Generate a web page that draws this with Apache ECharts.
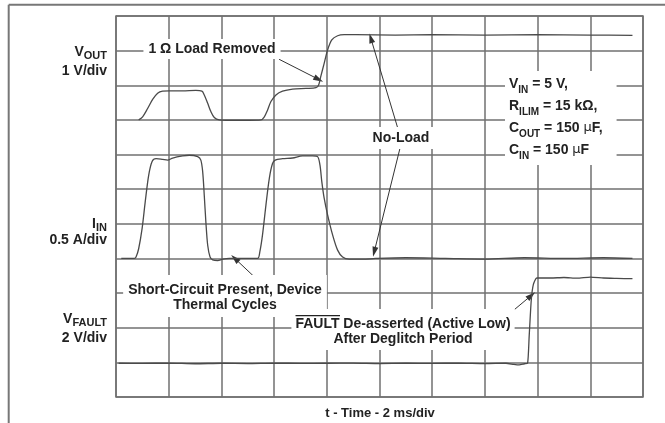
<!DOCTYPE html>
<html>
<head>
<meta charset="utf-8">
<script src="https://cdn.jsdelivr.net/npm/echarts@6/dist/echarts.min.js"></script>
<style>html,body{margin:0;padding:0;background:#fff;}#c{width:665px;height:423px;}</style>
</head>
<body>
<div id="c"></div>
<script>
// ---- data (time in ms, 2 ms/div) ----
const timeVout = [0.86,1.01,1.20,1.39,1.58,1.77,2.02,2.53,3.03,3.26,3.35,3.48,3.60,3.73,3.92,4.17,5.06,5.50,5.63,5.75,5.88,6.07,6.32,6.70,7.21,7.59,7.69,7.77,7.90,8.03,8.19,8.41,8.66,9.10,10.6,12,14,16,18,19.6];
const vout = [0,0.09,0.33,0.59,0.77,0.83,0.84,0.84,0.85,0.83,0.72,0.48,0.24,0.07,0.0,-0.01,-0.01,0,0.09,0.28,0.53,0.72,0.83,0.89,0.91,0.93,1.01,1.25,1.63,2.02,2.31,2.43,2.46,2.46,2.45,2.46,2.45,2.46,2.45,2.44];

const timeIin = [0.2,0.70,0.76,0.86,0.99,1.11,1.24,1.37,1.52,1.77,1.96,2.15,2.53,2.78,3.10,3.22,3.29,3.35,3.41,3.48,3.57,3.67,3.86,4.05,4.30,4.55,5.37,5.46,5.56,5.69,5.82,5.94,6.04,6.32,6.70,7.08,7.46,7.65,7.74,7.81,7.90,8.03,8.22,8.41,8.60,8.85,9.36,9.86,11,12.5,14,15.5,17,18.5,19.6];
const iin = [0,0,0.02,0.14,0.43,0.82,1.20,1.40,1.44,1.43,1.42,1.45,1.48,1.49,1.47,1.42,1.25,0.91,0.53,0.19,0.02,-0.02,-0.03,-0.01,0,0,0,0.10,0.34,0.77,1.16,1.37,1.42,1.44,1.45,1.48,1.48,1.47,1.35,1.11,0.87,0.63,0.34,0.12,0.02,-0.01,-0.01,0,0.01,0,-0.01,0.01,0,0.01,0];

const timeVfault = [0.1,1,2,3,4,5,6,7,8,9,10,11,12,13,14,14.8,15.1,15.3,15.5,15.62,15.68,15.76,15.84,15.97,16.5,17,17.5,18,18.5,19,19.6];
const vfault = [-0.05,-0.06,-0.04,-0.08,-0.05,-0.07,-0.04,-0.06,-0.05,-0.04,-0.07,-0.05,-0.06,-0.04,-0.07,-0.05,-0.12,-0.15,-0.08,-0.05,1.5,3.6,4.5,4.87,4.87,4.90,4.86,4.92,4.87,4.85,4.83];

// annotation arrows in [time ms, division] : start -> tip
const arrowStart = [[6.19,9.75],[10.69,7.77],[10.78,7.19],[5.54,3.26],[15.13,2.53]];
const arrowTip   = [[7.69,9.17],[9.67,10.36],[9.80,4.19],[4.51,4.00],[15.76,2.93]];

const xTicks = {min:0, max:20, interval:2};

const pairs = (t, v) => t.map((x, i) => [x, v[i]]);
const FF = "'Liberation Sans', Arial, Helvetica, sans-serif";
const GRID = '#707070';
const TRACE = '#4a4a4a';
const TXT = '#222';

const richL = {
  m: {fontSize:14, fontWeight:'bold', fontFamily:FF, lineHeight:18},
  s: {fontSize:11, fontWeight:'bold', fontFamily:FF, lineHeight:11, verticalAlign:'bottom'},
  u: {fontSize:13, fontWeight:'normal', fontFamily:"'DejaVu Sans', sans-serif", lineHeight:18}
};
const richP = {
  m: {fontSize:14, fontWeight:'bold', fontFamily:FF, lineHeight:22},
  s: {fontSize:10, fontWeight:'bold', fontFamily:FF, lineHeight:15, verticalAlign:'bottom'},
  u: {fontSize:13, fontWeight:'normal', fontFamily:"'DejaVu Sans', sans-serif", lineHeight:22}
};

function txt(x, y, text, opts) {
  return Object.assign({
    type:'text', x:x, y:y, z:100,
    style: Object.assign({text:text, fill:TXT, font:'bold 14px ' + FF, textAlign:'right', textVerticalAlign:'middle'}, opts || {})
  });
}

const chart = echarts.init(document.getElementById('c'), null, {renderer:'canvas'});
chart.setOption({
  animation:false,
  backgroundColor:'#fff',
  grid:{left:116, right:22, top:16, bottom:26, show:true, borderColor:GRID, borderWidth:1.5, backgroundColor:'transparent'},
  xAxis:{type:'value', min:xTicks.min, max:xTicks.max, interval:xTicks.interval,
    axisLine:{show:false}, axisTick:{show:false}, axisLabel:{show:false},
    splitLine:{show:true, lineStyle:{color:GRID, width:1.5}}},
  yAxis:[
    {type:'value', min:0, max:11, interval:1, axisLine:{show:false}, axisTick:{show:false}, axisLabel:{show:false},
      splitLine:{show:true, lineStyle:{color:GRID, width:1.5}}},
    {type:'value', min:-8, max:3, show:false, splitLine:{show:false}},
    {type:'value', min:-2, max:3.5, show:false, splitLine:{show:false}},
    {type:'value', min:-2, max:20, show:false, splitLine:{show:false}}
  ],
  series:[
    {name:'VOUT', type:'line', yAxisIndex:1, data:pairs(timeVout, vout), showSymbol:false, smooth:0.3,
      lineStyle:{color:TRACE, width:1.3}, z:5},
    {name:'IIN', type:'line', yAxisIndex:2, data:pairs(timeIin, iin), showSymbol:false, smooth:0.3,
      lineStyle:{color:TRACE, width:1.3}, z:5},
    {name:'VFAULT', type:'line', yAxisIndex:3, data:pairs(timeVfault, vfault), showSymbol:false, smooth:0.2,
      lineStyle:{color:TRACE, width:1.3}, z:5},
    {name:'arrows', type:'line', yAxisIndex:0, data:[], z:6,
      markLine:{silent:true, animation:false, symbol:['none','triangle'], symbolSize:[6,10],
        label:{show:false}, lineStyle:{color:'#333', width:1, type:'solid'},
        data: arrowStart.map((s, i) => [{coord:s}, {coord:arrowTip[i]}])}}
  ],
  graphic:[
    {type:'line', z:100, shape:{x1:8.7, y1:4.7, x2:665, y2:4.7}, style:{stroke:'#777', lineWidth:2}},
    {type:'line', z:100, shape:{x1:8.7, y1:4.7, x2:8.7, y2:423}, style:{stroke:'#777', lineWidth:2}},
    txt(107, 52, '{m|V}{s|OUT}', {rich:richL}),
    txt(107, 70.7, '1 V/div'),
    txt(107, 224, '{m|I}{s|IN}', {rich:richL}),
    txt(107, 240.5, '0.5 A/div'),
    txt(107, 319.5, '{m|V}{s|FAULT}', {rich:richL}),
    txt(107, 338, '2 V/div'),
    txt(212, 49, '1 \u03A9 Load Removed', {textAlign:'center', backgroundColor:'#fff', padding:[3,5]}),
    txt(505, 71, '{m|V}{s|IN}{m| = 5 V,}\n{m|R}{s|ILIM}{m| = 15 k\u03A9,}\n{m|C}{s|OUT}{m| = 150 }{u|\u03BC}{m|F,}\n{m|C}{s|IN}{m| = 150 }{u|\u03BC}{m|F}',
      {rich:richP, textAlign:'left', textVerticalAlign:'top', backgroundColor:'#fff', padding:[2,14,4,4]}),
    txt(401, 138, 'No-Load', {textAlign:'center', backgroundColor:'#fff', padding:[4,5]}),
    txt(225, 275, 'Short-Circuit Present, Device\nThermal Cycles',
      {textAlign:'center', textVerticalAlign:'top', lineHeight:14.5, backgroundColor:'#fff', padding:[8,5,5,5]}),
    txt(403, 309, 'FAULT De-asserted (Active Low)\nAfter Deglitch Period',
      {textAlign:'center', textVerticalAlign:'top', lineHeight:15, backgroundColor:'#fff', padding:[7.5,4,3.5,4]}),
    {type:'line', z:101, shape:{x1:295.5, y1:315.7, x2:340, y2:315.7}, style:{stroke:'#222', lineWidth:1.2}},
    txt(380, 413, 't - Time - 2 ms/div', {textAlign:'center', font:'bold 13px ' + FF})
  ]
});
</script>
</body>
</html>
